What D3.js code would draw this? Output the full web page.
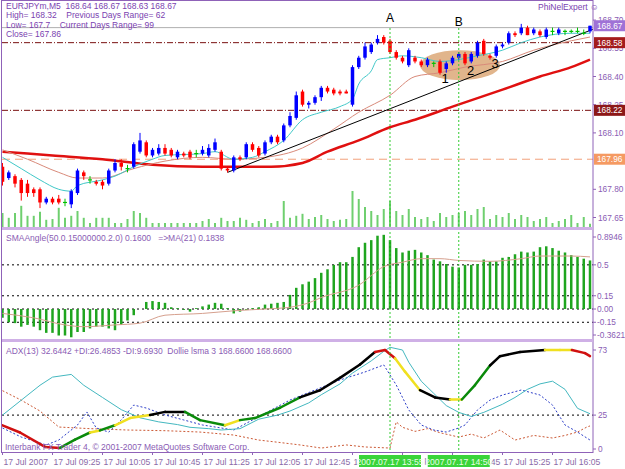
<!DOCTYPE html>
<html><head><meta charset="utf-8">
<script src="https://cdn.jsdelivr.net/npm/d3@7"></script>
<style>body{margin:0;background:#fff;}svg{display:block;}</style>
</head><body><svg id="c" width="625" height="469"></svg>
<script>
// ---------------- DATA ----------------
const opens  =[167.92,167.86,167.87,167.85,167.83,167.80,167.80,167.73,167.75,167.75,167.73,167.72,167.78,167.89,167.85,167.84,167.84,167.83,167.90,167.94,167.91,167.92,168.00,168.05,167.98,167.99,168.02,168.01,167.97,167.99,168.00,167.99,167.99,167.98,168.01,168.00,167.91,167.90,167.97,167.97,168.04,168.02,167.99,168.05,168.08,168.06,168.14,168.18,168.32,168.25,168.26,168.29,168.34,168.33,168.32,168.32,168.25,168.45,168.50,168.53,168.58,168.61,168.59,168.53,168.50,168.46,168.50,168.48,168.46,168.47,168.48,168.44,168.47,168.50,168.52,168.48,168.51,168.59,168.51,168.51,168.56,168.58,168.63,168.63,168.66,168.63,168.64,168.61,168.64,168.63,168.64,168.64,168.64,168.63,168.64];
const highs  =[167.94,167.90,167.88,167.86,167.85,167.81,167.81,167.76,167.76,167.77,167.75,167.80,167.91,167.90,167.87,167.85,167.85,167.91,167.96,167.96,167.93,168.05,168.10,168.06,168.02,168.04,168.04,168.02,168.01,168.00,168.01,168.01,168.03,168.04,168.07,168.01,167.92,167.98,167.98,168.05,168.05,168.03,168.06,168.09,168.09,168.15,168.21,168.32,168.33,168.27,168.30,168.35,168.35,168.34,168.33,168.33,168.46,168.51,168.58,168.58,168.62,168.62,168.60,168.54,168.51,168.55,168.51,168.49,168.50,168.48,168.49,168.48,168.51,168.53,168.53,168.53,168.59,168.60,168.52,168.57,168.58,168.64,168.64,168.68,168.67,168.66,168.65,168.66,168.66,168.66,168.65,168.65,168.66,168.65,168.67];
const lows   =[167.82,167.85,167.81,167.74,167.76,167.76,167.70,167.72,167.72,167.72,167.71,167.70,167.77,167.85,167.83,167.82,167.80,167.82,167.89,167.90,167.89,167.91,167.99,167.97,167.97,167.98,167.98,167.97,167.96,167.97,167.96,167.97,167.98,167.97,168.00,167.90,167.89,167.89,167.95,167.96,168.00,167.97,167.98,168.04,168.04,168.05,168.13,168.17,168.24,168.23,168.25,168.27,168.31,168.30,168.30,168.31,168.24,168.44,168.49,168.52,168.57,168.57,168.52,168.49,168.47,168.45,168.47,168.45,168.45,168.45,168.41,168.42,168.46,168.49,168.46,168.47,168.50,168.51,168.49,168.50,168.55,168.57,168.61,168.62,168.62,168.62,168.61,168.60,168.62,168.62,168.62,168.63,168.63,168.62,168.63];
const closes =[167.84,167.89,167.83,167.78,167.78,167.78,167.73,167.75,167.73,167.73,167.73,167.79,167.90,167.87,167.85,167.83,167.82,167.90,167.94,167.92,167.91,168.04,168.06,167.98,168.01,168.02,167.99,167.98,168.00,167.98,167.97,167.99,168.01,168.02,168.05,167.91,167.90,167.97,167.96,168.04,168.01,167.98,168.05,168.08,168.05,168.14,168.19,168.30,168.25,168.26,168.29,168.34,168.32,168.31,168.31,168.31,168.45,168.50,168.56,168.57,168.60,168.58,168.53,168.50,168.48,168.54,168.48,168.46,168.49,168.47,168.42,168.47,168.50,168.52,168.47,168.52,168.58,168.52,168.50,168.56,168.57,168.63,168.62,168.66,168.62,168.65,168.62,168.65,168.64,168.65,168.64,168.64,168.64,168.63,168.67];
const volumes=[40,28,40,58,33,33,43,23,25,53,28,33,45,28,15,28,28,28,15,15,25,45,40,28,15,15,15,15,15,15,15,15,20,25,15,28,20,20,28,23,15,20,25,15,20,70,28,33,38,25,30,35,25,20,23,25,95,75,55,45,35,50,70,45,35,50,30,25,30,20,40,30,35,40,45,35,50,55,25,35,30,40,25,35,30,20,25,30,15,20,25,35,15,30,13];
const maFastIdx=[0,3,6,9,11,12,16,18,21,24,26,32,34,37,40,42,45,48,51,54,56,57,59,60,62,64,67,70,73,76,80,83,86,91,94];
const maFastVal=[167.97,167.91,167.85,167.80,167.79,167.82,167.85,167.87,167.92,167.96,167.98,167.99,168.00,167.96,167.97,168.00,168.06,168.17,168.21,168.24,168.28,168.36,168.43,168.49,168.50,168.51,168.50,168.48,168.49,168.51,168.54,168.58,168.61,168.63,168.63];
const maMidIdx=[0,4,9,12,16,21,26,32,37,42,48,53,57,62,66,70,74,80,85,91,94];
const maMidVal=[168.01,167.96,167.89,167.86,167.86,167.91,167.95,167.97,167.96,167.97,168.02,168.12,168.21,168.30,168.40,168.42,168.45,168.48,168.54,168.59,168.61];
const maSlowIdx=[0,8,16,24,32,37,43,48,52,57,62,66,72,80,86,91,94];
const maSlowVal=[168.00,167.98,167.96,167.93,167.92,167.92,167.92,167.94,168.00,168.06,168.13,168.17,168.24,168.33,168.40,168.45,168.49];
const trendIdx=[36,94], trendVal=[167.89,168.645];
const hLevels=[168.66,168.58,168.22,167.96];
const tagValues=["168.67","168.58","168.22","167.96"];
const priceTicks=[168.70,168.55,168.40,168.25,168.10,167.80,167.65];
const histVals=[-0.10,-0.15,-0.16,-0.20,-0.18,-0.20,-0.24,-0.27,-0.27,-0.30,-0.30,-0.32,-0.26,-0.26,-0.22,-0.20,-0.20,-0.22,-0.24,-0.18,-0.13,-0.07,0.00,0.08,0.09,0.08,0.07,0.02,0.01,-0.01,-0.03,0.01,0.03,0.05,0.07,0.06,0.01,-0.05,-0.03,-0.01,0.01,0.02,0.05,0.06,0.07,0.08,0.16,0.24,0.28,0.31,0.35,0.41,0.45,0.50,0.53,0.53,0.59,0.70,0.75,0.78,0.83,0.84,0.78,0.69,0.64,0.66,0.67,0.64,0.61,0.56,0.54,0.51,0.48,0.47,0.50,0.50,0.51,0.56,0.54,0.54,0.58,0.59,0.62,0.65,0.64,0.65,0.70,0.71,0.69,0.66,0.64,0.61,0.59,0.57,0.55];
const sigIdx=[0,5,10,13,18,22,26,32,37,42,46,49,51,57,61,64,67,70,73,78,83,86,91,94];
const sigVal=[-0.05,-0.10,-0.18,-0.20,-0.18,-0.16,-0.07,-0.05,-0.02,0.00,0.02,0.07,0.13,0.27,0.48,0.53,0.57,0.57,0.55,0.54,0.57,0.60,0.60,0.59];
const oscLevels=[0.5,0.15,0.0,-0.15];
const oscTicks=["0.8946","0.5","0.15","0.00","-0.15","-0.3621"];
const adxIdx=[0,3,6,8,11,13,16,19,22,25,28,30,33,35,38,41,44,46,49,51,54,56,59,61,62,64,65,67,69,71,73,75,77,80,82,84,86,88,90,92,94];
const adxVal=[25,36,47,53,55,47,38,29,23,20,18,16,15,14,15,22,25,28,34,40,48,56,65,72,75,73,64,50,41,32,27,24,27,33,38,44,48,50,44,30,26];
const pdiIdx=[0,3,7,9,12,13.5,15,17,19,21,23,26,29,32,35,37,40,43,46,50,54,58,61,63,65,67,69,71,73,74,76,78,80,83,86,88,90,92,94];
const pdiVal=[15.5,8.8,3,6.6,17.7,27.3,15.5,12.5,21.4,32.4,30.2,25.1,21.4,17.7,15.5,14,21.4,28.8,36.1,43.5,50.9,56.8,62,47.2,28.8,17.7,14,12.5,15.5,17.7,28.8,36.1,39.8,43.5,39.8,32.4,17.7,12.5,6.6];
const mdiIdx=[0,3,6,9,14,20,26,31.6,37,41,44,47.6,51,55,58,62,63,64,66,68,70,73,75,77,79.6,82,85,88,90,92,93.5,94];
const mdiVal=[43,36,28,16.2,15,14,13.5,12.5,10.3,6.6,5,3,0.7,3,1.5,0.7,20,16,13,15,12,8.8,11,8.1,14,6.6,10,8.1,10,12.5,16.2,17];
const lsmaIdx=[0,2.8,6.8,9.2,11.6,14,15.6,18,20.4,23.6,26,29.2,31.6,35.6,38,40.4,44.4,47.6,50.8,54,57.2,59.6,61.2,62.8,64.4,66.8,69.2,71.6,73.5,75.6,78,79.6,82.8,86.8,89.2,91.1,93.2,94];
const lsmaVal=[167.93,167.86,167.72,167.71,167.79,167.86,167.88,167.93,168.00,168.03,168.06,168.06,167.98,167.93,167.98,168.00,168.10,168.20,168.27,168.39,168.52,168.64,168.66,168.58,168.45,168.27,168.20,168.18,168.18,168.32,168.51,168.60,168.64,168.66,168.66,168.66,168.63,168.60];
const lsmaCol=["r","r","r","r","g","g","y","g","y","y","k","k","g","g","y","g","g","g","k","k","k","k","r","r","y","y","k","k","y","g","g","k","k","k","y","y","r","r"];
const adxTicks=[73,25,0];
const timeIdx=[0,8,16,24,32,40,48,56,64,72,80,88];
const timeLabels=["17 Jul 2007","17 Jul 09:25","17 Jul 10:05","17 Jul 10:45","17 Jul 11:25","17 Jul 12:05","17 Jul 12:45","17 Jul 13:25","17 Jul 14:05","17 Jul 14:45","17 Jul 15:25","17 Jul 16:05"];
const markIdx=[62,73], markNames=["A","B"], markLabels=["2007.07.17 13:55","2007.07.17 14:50"];
const waveIdx=[70.8,74.9,78.8], waveVal=[168.366,168.408,168.445], waveNames=["1","2","3"];
const zoneIdx=73.2, zoneVal=168.46;

// ---------------- CHART ----------------
const svg=d3.select("#c");
const F='"Liberation Sans", Arial, sans-serif';
const PURPLE="#8f62b8", TXT="#8a5cb4";
const x=d3.scaleLinear().domain([0,94]).range([2.5,590]);
const yP=d3.scaleLinear().domain([167.65,168.70]).range([217.5,20.1]);
const yV=d3.scaleLinear().domain([0,100]).range([229,189]);
const yO=d3.scaleLinear().domain([-0.3621,0.8946]).range([341,230]);
const yA=d3.scaleLinear().domain([0,73]).range([449,350]);
const yL=d3.scaleLinear().domain([167.70,168.66]).range([449,350]);
const L=2, R=593;
const panels=[[1,227],[230,339],[342,452]];
const defs=svg.append("defs");
panels.forEach((p,k)=>defs.append("clipPath").attr("id","cp"+k).append("rect").attr("x",L).attr("y",p[0]).attr("width",R-L).attr("height",p[1]-p[0]));
const g0=svg.append("g").attr("clip-path","url(#cp0)");
const g1=svg.append("g").attr("clip-path","url(#cp1)");
const g2=svg.append("g").attr("clip-path","url(#cp2)");

// volumes
g0.selectAll(".vol").data(volumes).join("line").attr("x1",(d,i)=>x(i)).attr("x2",(d,i)=>x(i))
 .attr("y1",yV(0)).attr("y2",d=>yV(d)).attr("stroke","#6fcf6f").attr("stroke-width",2);

// highlighted zone
g0.append("ellipse").attr("cx",x(zoneIdx)).attr("cy",yP(zoneVal)).attr("rx",40).attr("ry",15).attr("fill","#dca878").attr("opacity",0.85);

// horizontal levels
const lvlStyle=[["#b0b0b0",null,1],["#7a1010","6,2,1,2",1],["#7a1010","6,2,1,2",1],["#f2a07a","8,5",1]];
hLevels.forEach((v,k)=>g0.append("line").attr("x1",L).attr("x2",R).attr("y1",yP(v)).attr("y2",yP(v))
 .attr("stroke",lvlStyle[k][0]).attr("stroke-dasharray",lvlStyle[k][1]).attr("stroke-width",lvlStyle[k][2]));

// moving averages
const lineP=(ix,vs)=>d3.line().x((d,i)=>x(ix[i])).y(d=>yP(d)).curve(d3.curveMonotoneX)(vs);
g0.append("path").attr("d",lineP(maSlowIdx,maSlowVal)).attr("fill","none").attr("stroke","#e01010").attr("stroke-width",2.5);
g0.append("path").attr("d",lineP(maMidIdx,maMidVal)).attr("fill","none").attr("stroke","#d98a7a").attr("stroke-width",1);
g0.append("path").attr("d",lineP(maFastIdx,maFastVal)).attr("fill","none").attr("stroke","#40c8c8").attr("stroke-width",1);
{const x1=x(trendIdx[0]),y1=yP(trendVal[0]),x2=x(trendIdx[1]),y2=yP(trendVal[1]);
 const s=(y2-y1)/(x2-x1);
 g0.append("line").attr("x1",x1).attr("y1",y1).attr("x2",R).attr("y2",y1+s*(R-x1)).attr("stroke","#000").attr("stroke-width",1);}

// candles
const cg=g0.append("g");
opens.forEach((o,i)=>{
  const c=closes[i],h=highs[i],l=lows[i],cx=x(i);
  const col=c>o?"#0000ff":(c<o?"#ff0000":"#00c000");
  cg.append("line").attr("x1",cx).attr("x2",cx).attr("y1",yP(h)).attr("y2",yP(l)).attr("stroke",col).attr("stroke-width",1);
  if(c===o){cg.append("line").attr("x1",cx-2).attr("x2",cx+2).attr("y1",yP(o)).attr("y2",yP(o)).attr("stroke",col).attr("stroke-width",1.2);}
  else{const t=yP(Math.max(o,c)),b=yP(Math.min(o,c));cg.append("rect").attr("x",cx-1.75).attr("width",3.5).attr("y",t).attr("height",Math.max(1,b-t)).attr("fill",col);}
});

// wave labels
waveIdx.forEach((d,k)=>g0.append("text").attr("x",x(d)).attr("y",yP(waveVal[k])).attr("font-family",F).attr("font-size",13).attr("fill","#000").attr("text-anchor","middle").text(waveNames[k]));

// header
const hdr=["EURJPYm,M5  168.64 168.67 168.63 168.67","High= 168.32    Previous Days Range= 62","Low= 167.7    Current Days Range= 99","Close= 167.86"];
hdr.forEach((t,k)=>svg.append("text").attr("x",6).attr("y",9+k*9.3).attr("font-family",F).attr("font-size",8.5).attr("fill","#7b3fb0").attr("xml:space","preserve").text(t));
svg.append("text").attr("x",538).attr("y",10).attr("font-family",F).attr("font-size",8.5).attr("fill","#7b3fb0").text("PhiNelExpert \u263A");

// ---- oscillator panel
oscLevels.forEach(v=>g1.append("line").attr("x1",L).attr("x2",R).attr("y1",yO(v)).attr("y2",yO(v)).attr("stroke","#000").attr("stroke-dasharray","2,3"));
g1.selectAll(".h").data(histVals).join("line").attr("x1",(d,i)=>x(i)).attr("x2",(d,i)=>x(i)).attr("y1",yO(0)).attr("y2",d=>yO(d)).attr("stroke","#1fa51f").attr("stroke-width",2.5);
g1.append("path").attr("d",d3.line().x((d,i)=>x(sigIdx[i])).y(d=>yO(d)).curve(d3.curveMonotoneX)(sigVal)).attr("fill","none").attr("stroke","#d6a08e").attr("stroke-width",1);
svg.append("text").attr("x",6).attr("y",241).attr("font-family",F).attr("font-size",8.5).attr("fill",TXT).attr("xml:space","preserve").text("SMAAngle(50.0.15000000.2.0) 0.1600   =>MA(21) 0.1838");

// ---- ADX panel
g2.append("line").attr("x1",L).attr("x2",R).attr("y1",yA(25)).attr("y2",yA(25)).attr("stroke","#000").attr("stroke-dasharray","2,3");
const lineA=(ix,vs)=>d3.line().x((d,i)=>x(ix[i])).y(d=>yA(d))(vs);
g2.append("path").attr("d",lineA(mdiIdx,mdiVal)).attr("fill","none").attr("stroke","#cc5a36").attr("stroke-dasharray","2,2").attr("stroke-width",1);
g2.append("path").attr("d",lineA(pdiIdx,pdiVal)).attr("fill","none").attr("stroke","#2c3ec8").attr("stroke-dasharray","2,2").attr("stroke-width",1);
g2.append("path").attr("d",lineA(adxIdx,adxVal)).attr("fill","none").attr("stroke","#44b8c0").attr("stroke-width",1);
const colMap={r:"#d01010",g:"#0a8a0a",y:"#f0e020",k:"#000"};
for(let k=0;k<lsmaIdx.length-1;k++){
  g2.append("line").attr("x1",x(lsmaIdx[k])).attr("y1",yL(lsmaVal[k])).attr("x2",x(lsmaIdx[k+1])).attr("y2",yL(lsmaVal[k+1]))
   .attr("stroke",colMap[lsmaCol[k+1]]).attr("stroke-width",2.5).attr("stroke-linecap","round");
}
svg.append("text").attr("x",6).attr("y",354).attr("font-family",F).attr("font-size",8.5).attr("fill",TXT).attr("xml:space","preserve").text("ADX(13) 32.6442 +DI:26.4853 -DI:9.6930  Dollie lsma 3 168.6600 168.6600");
svg.append("text").attr("x",5).attr("y",450).attr("font-family",F).attr("font-size",8.5).attr("fill",TXT).text("Interbank FX Trader 4, \u00A9 2001-2007 MetaQuotes Software Corp.");

// marker verticals
markIdx.forEach((d,k)=>{
  svg.append("line").attr("x1",x(d)).attr("x2",x(d)).attr("y1",28).attr("y2",452).attr("stroke","#33cc33").attr("stroke-dasharray","2,2");
  svg.append("text").attr("x",x(d)).attr("y",k?26:22).attr("text-anchor","middle").attr("font-family",F).attr("font-size",12).attr("fill","#000").text(markNames[k]);
});

// frames
svg.append("rect").attr("x",L-0.5).attr("y",0.5).attr("width",R-L+0.5).attr("height",452).attr("fill","none").attr("stroke",PURPLE);
[[227,230],[339,342]].forEach(b=>svg.append("rect").attr("x",L).attr("y",b[0]).attr("width",R-L).attr("height",b[1]-b[0]).attr("fill","#cfb0e6"));

// right axes
const ax=svg.append("g").attr("font-family",F).attr("font-size",8.3).attr("fill",TXT);
priceTicks.forEach(v=>{ax.append("line").attr("x1",R).attr("x2",R+3).attr("y1",yP(v)).attr("y2",yP(v)).attr("stroke",PURPLE);
 ax.append("text").attr("x",598).attr("y",yP(v)+3).text(v.toFixed(2));});
const tagCol=["#9f72d6","#a41c1c","#8c1818","#f59a62"];
tagValues.forEach((t,k)=>{const yy=yP(+t);ax.append("rect").attr("x",594).attr("y",yy-5.5).attr("width",31).attr("height",11).attr("fill",tagCol[k]);
 ax.append("text").attr("x",597).attr("y",yy+3).attr("fill","#fff").text(t);});
oscTicks.forEach(t=>{let yy=yO(+t);yy=Math.max(237,Math.min(335,yy));
 ax.append("line").attr("x1",R).attr("x2",R+3).attr("y1",yy).attr("y2",yy).attr("stroke",PURPLE);
 ax.append("text").attr("x",597).attr("y",yy+3).text(t);});
adxTicks.forEach(v=>{const yy=yA(v);ax.append("line").attr("x1",R).attr("x2",R+3).attr("y1",yy).attr("y2",yy).attr("stroke",PURPLE);
 ax.append("text").attr("x",598).attr("y",yy+3).text(v);});

// time axis: labels partly covered by the crosshair boxes keep only their visible characters
const tx=svg.append("g").attr("font-family",F).attr("font-size",8.6).attr("fill","#8a6aa8");
const boxW=62, boxes=markIdx.map(d=>[x(d)-boxW/2,x(d)+boxW/2]);
timeIdx.forEach((d,k)=>{
  tx.append("line").attr("x1",x(d)).attr("x2",x(d)).attr("y1",452).attr("y2",455).attr("stroke",PURPLE);
  const str=timeLabels[k];
  const t=tx.append("text").attr("x",x(d)+1).attr("y",465).attr("xml:space","preserve").text(str);
  const node=t.node();
  const hid=j=>{const a=node.getStartPositionOfChar(j).x,b=node.getEndPositionOfChar(j).x;return boxes.some(bx=>b>bx[0]&&a<bx[1]);};
  let anyHidden=false;for(let j=0;j<str.length;j++)if(hid(j))anyHidden=true;
  if(!anyHidden)return;
  const runs=[];let cur=null;
  for(let j=0;j<str.length;j++){if(!hid(j)){if(!cur){cur={x:node.getStartPositionOfChar(j).x,s:""};runs.push(cur);}cur.s+=str[j];}else cur=null;}
  t.remove();
  runs.forEach(r=>{if(r.s.trim())tx.append("text").attr("x",r.x).attr("y",465).attr("xml:space","preserve").text(r.s);});
});
markIdx.forEach((d,k)=>{tx.append("rect").attr("x",x(d)-boxW/2).attr("y",455).attr("width",boxW).attr("height",12).attr("fill","#3ad43a");
 tx.append("text").attr("x",x(d)).attr("y",464.5).attr("text-anchor","middle").attr("fill","#e8ffe8").text(markLabels[k]);});
</script></body></html>
